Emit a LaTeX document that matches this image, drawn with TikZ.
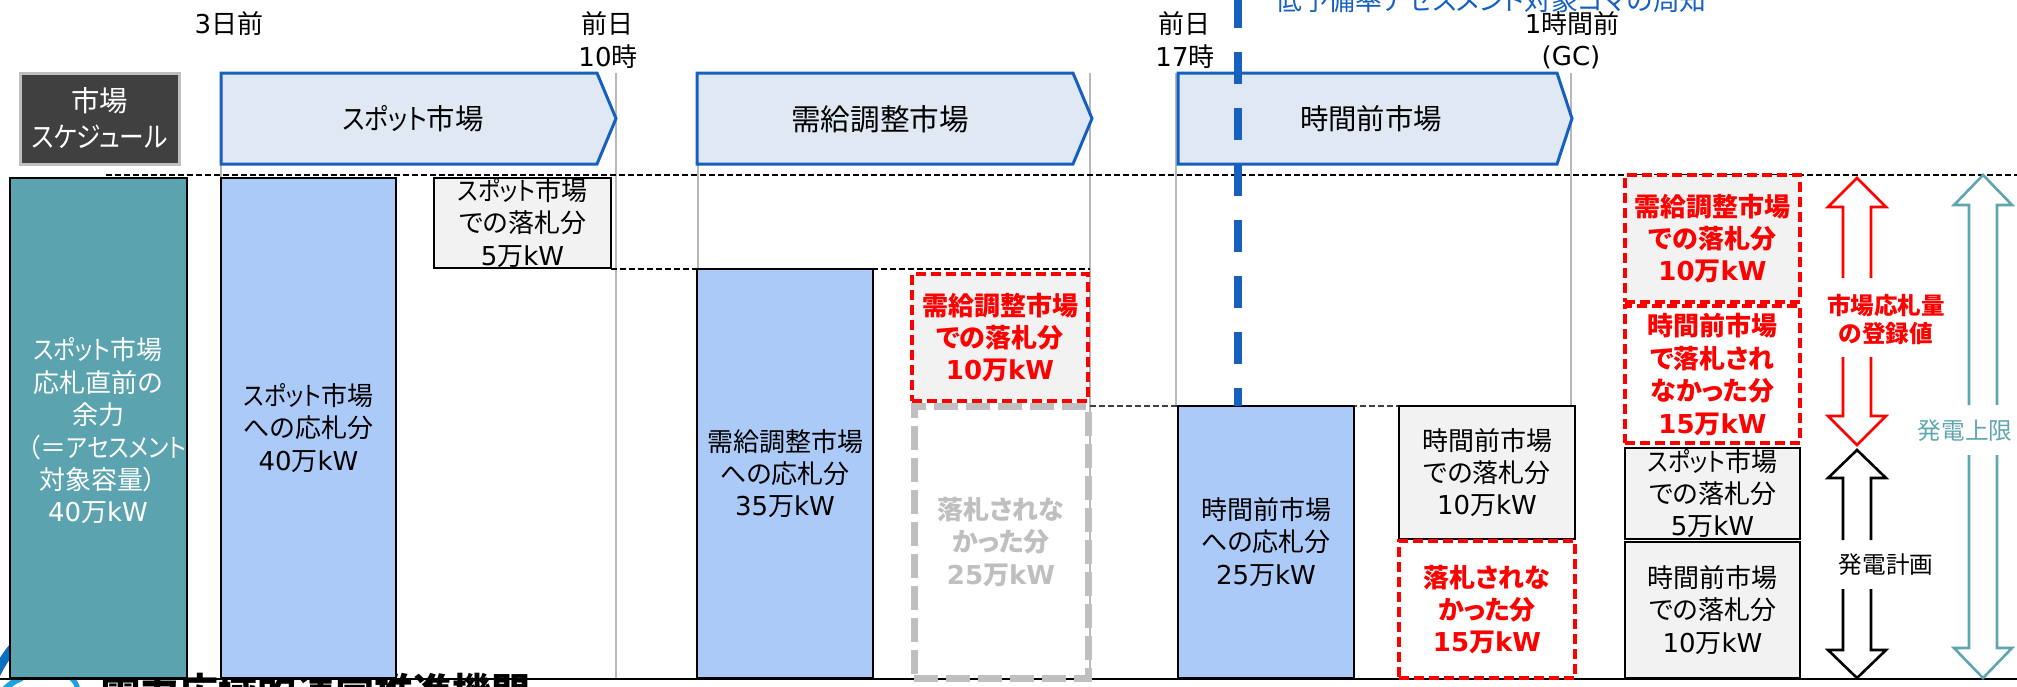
\documentclass[tikz,border=0pt]{standalone}
\usepackage{fontspec}
\setmainfont{Noto Sans CJK JP}[RawFeature={+palt}]
\newfontfamily\djv{DejaVu Sans}
\newfontfamily\knn{Noto Sans CJK JP}[RawFeature={+palt},FakeStretch=0.87]
\newcommand\Dg[1]{{\djv #1}}
\newcommand\Sp{{\knn スポット}市場}
\definecolor{teal1}{HTML}{5BA3AE}
\definecolor{tealln}{HTML}{5FA5B0}
\definecolor{bar}{HTML}{ABCAF7}
\definecolor{arfill}{HTML}{DFE8F3}
\definecolor{arln}{HTML}{1560C0}
\definecolor{boxg}{HTML}{F2F2F2}
\definecolor{vln}{HTML}{B8B8B8}
\definecolor{grayd}{HTML}{BFBFBF}
\definecolor{dark}{HTML}{404040}
\definecolor{logod}{HTML}{0A6FC0}
\definecolor{logol}{HTML}{19A5E0}
\tikzset{
  x=0.5pt,y=-0.5pt,
  tx/.style={font=\fontsize{13}{16.2}\selectfont,align=center,inner sep=0pt,outer sep=0pt,text=black},
  hdr/.style={tx,font=\fontsize{14.2}{18}\selectfont},
  barbx/.style={tx,draw=black,line width=1.4pt,fill=bar},
  tealbx/.style={barbx,fill=teal1,text=white},
  greybx/.style={barbx,fill=boxg},
  redbx/.style={tx,draw=red,line width=2.2pt,dash pattern=on 5pt off 2.5pt,fill=white,text=red,font=\fontsize{13}{16.2}\selectfont\bfseries},
  redgbx/.style={redbx,fill=boxg},
  graybx/.style={redbx,draw=grayd,line width=3.5pt,dash pattern=on 12pt off 4pt,text=grayd},
  chev/.style={draw=arln,fill=arfill,line width=1.5pt,line join=miter},
  vl/.style={draw=vln,line width=0.8pt},
  hd/.style={draw=black,line width=0.7pt,dash pattern=on 3pt off 1.5pt},
  hg/.style={draw=dark,line width=0.7pt,dash pattern=on 3pt off 1.5pt},
  small/.style={tx,font=\fontsize{11.8}{14}\selectfont},
}
\newcommand\bx[6]{\node[#1,minimum width={(#4-#3)*0.5pt},minimum height={(#6-#5)*0.5pt}] (#2) at ({(#3+#4)/2},{(#5+#6)/2})}
% colour, x, tip, shoulder, shaft end, shaft start, shoulder, tip
\newcommand\dbl[8]{%
  \draw[#1,line width=1.3pt,line join=miter] (#2-14,#5)--(#2-14,#4)--(#2-29,#4)--(#2,#3)--(#2+29,#4)--(#2+14,#4)--(#2+14,#5);
  \draw[#1,line width=1.3pt,line join=miter] (#2-14,#6)--(#2-14,#7)--(#2-29,#7)--(#2,#8)--(#2+29,#7)--(#2+14,#7)--(#2+14,#6);}
\begin{document}
\begin{tikzpicture}
\useasboundingbox (0,0) rectangle (2017,686);
\clip (0,0) rectangle (2017,686);
% clipped logo and organisation name at the foot
\draw[logod,line width=4.5pt] (-4,674) .. controls (1,664) and (7,654) .. (16,644);
\draw[logol,line width=3pt] (4,690) .. controls (10,684) and (14,681) .. (22,678);
\draw[logol,line width=2.5pt] (60,672) .. controls (70,676) and (76,680) .. (78,690);
\node[tx,font=\fontsize{19.5}{22}\selectfont\bfseries] (org) at (316,692) {電力広域的運営推進機関};
% time grid
\draw[vl] (221,164)--(221,178);
\draw[vl] (616,73)--(616,679);
\draw[vl] (698,73)--(698,269);
\draw[vl] (1090,73)--(1090,679);
\draw[vl] (1176,73)--(1176,406);
\draw[vl] (1571,73)--(1571,406);
\draw[hd] (106,175)--(2017,175);
\draw[hd] (611,269)--(1090,269);
\draw[hg] (1090,406)--(1400,406);
\draw[black,line width=1pt] (0,679)--(2017,679);
% time labels
\node[tx] (t1) at (229,24) {\Dg{3}日前};
\node[tx] (t2) at (607,24) {前日};
\node[tx] (t2b) at (608,57) {\Dg{10}時};
\node[tx] (t3) at (1184,24) {前日};
\node[tx] (t3b) at (1185,57) {\Dg{17}時};
\node[tx] (t4) at (1572,24) {\Dg{1}時間前};
\node[tx] (t4b) at (1571,57) {\Dg{(GC)}};
\node[tx,text=arln,font=\fontsize{13.4}{16}\selectfont] (note) at (1491,0) {低予備率アセスメント対象コマの周知};
% schedule header
\bx{hdr,draw=grayd,line width=1.5pt,fill=dark,text=white}{sch}{20}{179}{73}{164}{市場\\{\knn スケジュール}};
\draw[chev] (221,73)--(597,73)--(616,118.5)--(597,164)--(221,164)--cycle;
\node[hdr] (a1) at (413,119) {\Sp};
\draw[chev] (697,73)--(1073,73)--(1092,118.5)--(1073,164)--(697,164)--cycle;
\node[hdr,font=\fontsize{14.8}{18}\selectfont] (a2) at (880,119) {需給調整市場};
\draw[chev] (1178,73)--(1557,73)--(1572,118.5)--(1557,164)--(1178,164)--cycle;
\node[hdr] (a3) at (1371,119) {時間前市場};
% columns
\bx{tealbx}{c0}{10}{187}{178}{678}{};
\node[tx,text=white] (c0t) at (98,431) {\Sp\\応札直前の\\余力\\\hspace*{9pt}（＝{\knn アセスメント}\\対象容量）\hspace*{5pt}\\\Dg{40}万\Dg{kW}};
\bx{barbx}{c1}{221}{396}{178}{678}{\Sp\\への応札分\\\Dg{40}万\Dg{kW}};
\bx{greybx}{c1b}{434}{611}{178}{268}{\Sp\\での落札分\\\Dg{5}万\Dg{kW}};
\bx{barbx}{c2}{697}{873}{269}{678}{需給調整市場\\への応札分\\\Dg{35}万\Dg{kW}};
\bx{graybx}{c2c}{914}{1088}{406}{678}{落札されな\\かった分\\\Dg{25}万\Dg{kW}};
\bx{redgbx}{c2b}{912}{1088}{274}{401}{需給調整市場\\での落札分\\\Dg{10}万\Dg{kW}};
\bx{barbx}{c3}{1178}{1354}{406}{678}{時間前市場\\への応札分\\\Dg{25}万\Dg{kW}};
\bx{greybx}{c3b}{1399}{1575}{406}{539}{時間前市場\\での落札分\\\Dg{10}万\Dg{kW}};
\bx{redbx}{c3c}{1399}{1575}{541}{678}{落札されな\\かった分\\\Dg{15}万\Dg{kW}};
\bx{redgbx}{r1}{1625}{1800}{175}{302}{需給調整市場\\での落札分\\\Dg{10}万\Dg{kW}};
\bx{redbx}{r2}{1625}{1800}{306}{443}{時間前市場\\で落札され\\なかった分\\\Dg{15}万\Dg{kW}};
\bx{greybx}{r3}{1625}{1800}{448}{539}{\Sp\\での落札分\\\Dg{5}万\Dg{kW}};
\bx{greybx}{r4}{1625}{1800}{542}{678}{時間前市場\\での落札分\\\Dg{10}万\Dg{kW}};
% blue dashed line
\draw[arln,line width=4pt,dash pattern=on 16pt off 12pt,dash phase=2pt] (1238,0)--(1238,406);
% block arrows
\dbl{red}{1857}{178}{207}{278}{357}{416}{445}
\dbl{black}{1857}{450}{478}{540}{589}{650}{678}
\dbl{tealln}{1983}{175}{205}{405}{455}{648}{678}
\node[small,text=red,font=\fontsize{11.8}{14}\selectfont\bfseries] (l1) at (1886,319) {市場応札量\\の登録値};
\node[small] (l2) at (1886,565) {発電計画};
\node[small,text=tealln] (l3) at (1965,431) {発電上限};
\end{tikzpicture}
\end{document}
